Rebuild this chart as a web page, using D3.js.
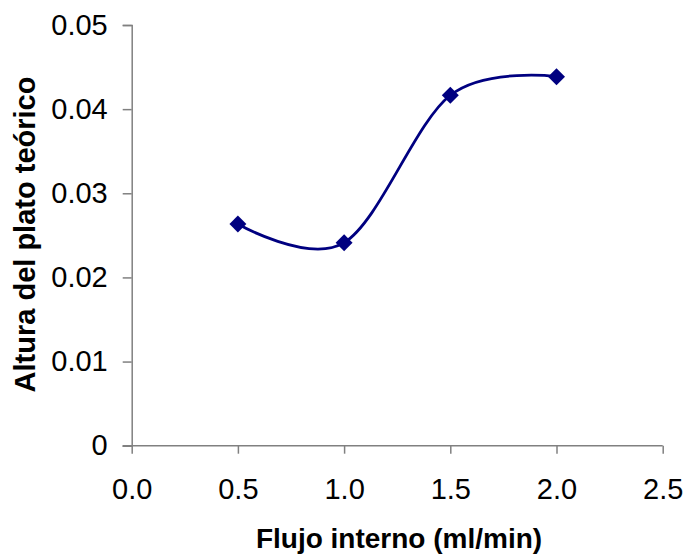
<!DOCTYPE html>
<html>
<head>
<meta charset="utf-8">
<script src="https://cdn.jsdelivr.net/npm/d3@7"></script>
<style>
  body { margin: 0; background: #fff; }
  text { font-family: "Liberation Sans", Arial, sans-serif; }
</style>
</head>
<body>
<div id="chart"></div>
<script>
const flujo = [0.5, 1.0, 1.5, 2.0];
const altura = [0.02635, 0.02413, 0.04165, 0.04386];
const xTicks = [0, 0.5, 1.0, 1.5, 2.0, 2.5];
const yTicks = [0, 0.01, 0.02, 0.03, 0.04, 0.05];

const width = 687, height = 557;
const margin = {top: 25, right: 24.3, bottom: 111.3, left: 131.7};

const svg = d3.select("#chart").append("svg")
    .attr("width", width)
    .attr("height", height);

const x = d3.scaleLinear().domain([0, 2.5]).range([margin.left, width - margin.right]);
const y = d3.scaleLinear().domain([0, 0.05]).range([height - margin.bottom, margin.top]);

const font = "'Liberation Sans', Arial, sans-serif";

// y axis
const yAxis = svg.append("g")
    .attr("transform", "translate(" + margin.left + ",0)")
    .call(d3.axisLeft(y).tickValues(yTicks).tickSize(9).tickPadding(15)
        .tickFormat(d => d === 0 ? "0" : d3.format(".2f")(d)));
yAxis.select(".domain").attr("stroke", "#808080").attr("stroke-width", 1.5);
yAxis.selectAll(".tick line").attr("stroke", "#808080").attr("stroke-width", 1.5);
yAxis.selectAll("text").attr("font-size", 29).attr("fill", "#000").style("font-family", font);

// x axis
const xAxis = svg.append("g")
    .attr("transform", "translate(0," + y(0) + ")")
    .call(d3.axisBottom(x).tickValues(xTicks).tickSize(8).tickPadding(25)
        .tickFormat(d3.format(".1f")));
xAxis.select(".domain").attr("stroke", "#808080").attr("stroke-width", 1.5)
    .attr("d", "M" + (margin.left - 9) + ",0H" + (width - margin.right));
xAxis.selectAll(".tick line").attr("stroke", "#808080").attr("stroke-width", 1.5);
xAxis.selectAll("text").attr("font-size", 29).attr("fill", "#000").style("font-family", font);

const data = flujo.map((f, i) => [f, altura[i]]);

const line = d3.line()
    .x(d => x(d[0]))
    .y(d => y(d[1]))
    .curve(d3.curveCardinal.tension(0));

svg.append("path")
    .datum(data)
    .attr("fill", "none")
    .attr("stroke", "#000080")
    .attr("stroke-width", 2.8)
    .attr("d", line);

svg.selectAll(".pt")
    .data(data)
    .enter()
    .append("rect")
    .attr("class", "pt")
    .attr("x", -6).attr("y", -6)
    .attr("width", 12).attr("height", 12)
    .attr("fill", "#000080")
    .attr("transform", d => "translate(" + x(d[0]) + "," + y(d[1]) + ") rotate(45)");

svg.append("text")
    .attr("x", 399)
    .attr("y", 548)
    .attr("text-anchor", "middle")
    .attr("font-size", 28)
    .attr("font-weight", "bold")
    .text("Flujo interno (ml/min)");

svg.append("text")
    .attr("transform", "translate(35,234.5) rotate(-90)")
    .attr("text-anchor", "middle")
    .attr("font-size", 29)
    .attr("font-weight", "bold")
    .text("Altura del plato teórico");
</script>
</body>
</html>
